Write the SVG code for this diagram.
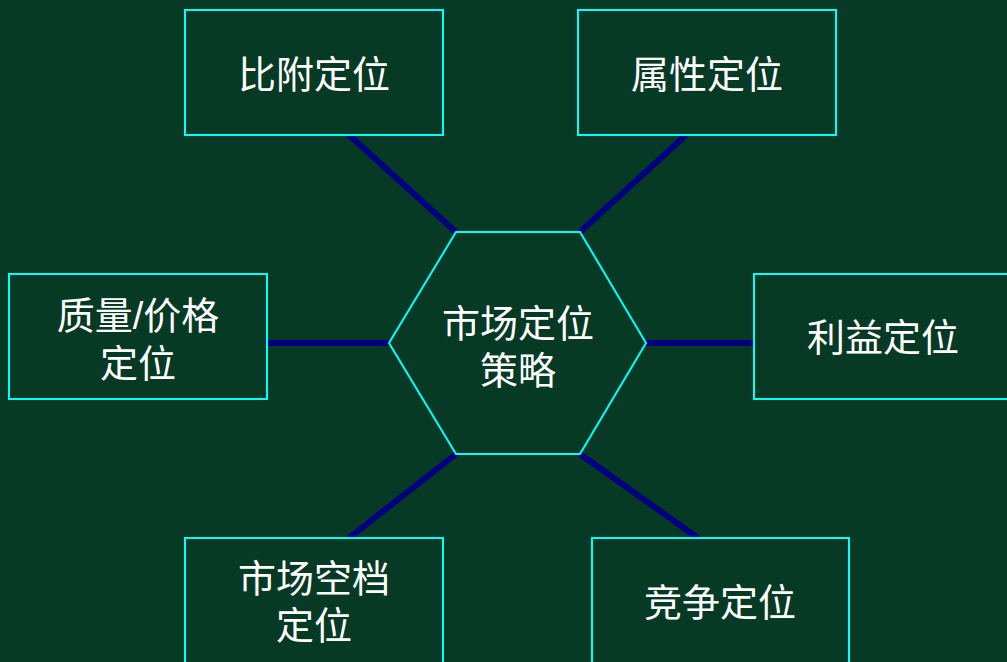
<svg xmlns="http://www.w3.org/2000/svg" width="1007" height="662" viewBox="0 0 1007 662">
<style>
.box{fill:#073a24;stroke:#00ffff;stroke-width:2}
.hex{fill:#073a24;stroke:#00ffff;stroke-width:2}
.t{font-family:"Liberation Sans","Noto Sans CJK SC",sans-serif;font-size:38px;fill:#ffffff;text-anchor:middle}
.c{stroke:#000080;stroke-width:6;stroke-linecap:butt}
</style>
<rect width="1007" height="662" fill="#073a24"/>
<g id="connectors">
<line class="c" x1="349" y1="135" x2="456" y2="232"/>
<line class="c" x1="686" y1="135" x2="580" y2="232"/>
<line class="c" x1="267" y1="343" x2="389" y2="343"/>
<line class="c" x1="646" y1="343" x2="754" y2="343"/>
<line class="c" x1="456" y1="454" x2="349" y2="538"/>
<line class="c" x1="580" y1="454" x2="698" y2="538"/>
</g>
<g id="center">
<polygon class="hex" points="456,232 580,232 646,343 580,454 456,454 389,343"/>
<text class="t" x="518" y="337">市场定位<tspan x="518" dy="47">策略</tspan></text>
</g>
<g id="bifu">
<rect class="box" x="185" y="10" width="258" height="125"/>
<text class="t" x="314" y="88">比附定位</text>
</g>
<g id="shuxing">
<rect class="box" x="578" y="10" width="258" height="125"/>
<text class="t" x="707" y="88">属性定位</text>
</g>
<g id="zhiliang">
<rect class="box" x="9" y="274" width="258" height="125"/>
<text class="t" x="138" y="329">质量/价格<tspan x="138" dy="48">定位</tspan></text>
</g>
<g id="liyi">
<rect class="box" x="754" y="274" width="258" height="125"/>
<text class="t" x="883" y="351">利益定位</text>
</g>
<g id="kongdang">
<rect class="box" x="185" y="538" width="258" height="125"/>
<text class="t" x="314" y="592">市场空档<tspan x="314" dy="47">定位</tspan></text>
</g>
<g id="jingzheng">
<rect class="box" x="592" y="538" width="257" height="125"/>
<text class="t" x="720" y="616">竞争定位</text>
</g>
</svg>
